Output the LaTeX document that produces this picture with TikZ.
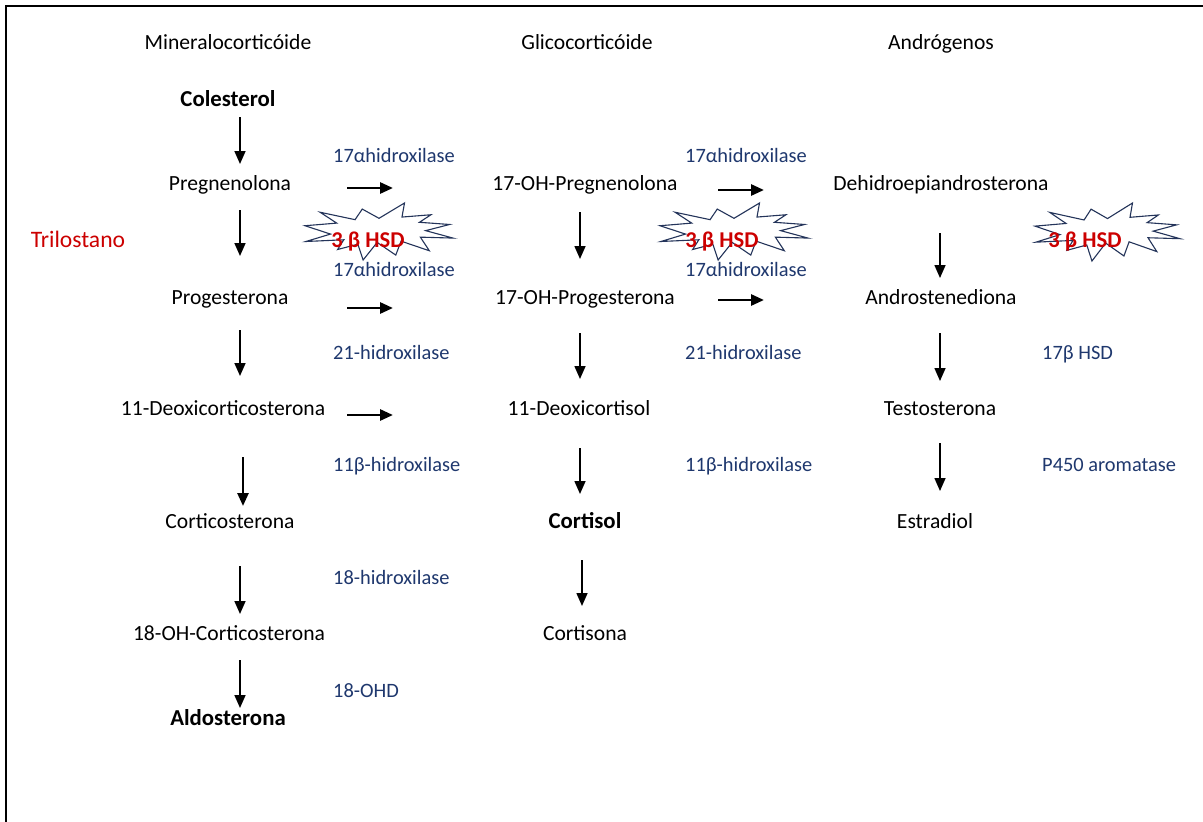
\documentclass[tikz,border=0pt]{standalone}
\usepackage{fontspec}
\setmainfont{Carlito}
\usetikzlibrary{arrows.meta}
\definecolor{enzblue}{RGB}{31,56,110}
\definecolor{sealblue}{RGB}{36,52,90}
\definecolor{trired}{RGB}{204,0,0}
\tikzset{
  lbl/.style={font=\fontsize{21.6}{25}\selectfont, inner sep=0pt, text height=0.64em, text depth=0pt, yshift=-4pt},
  boldlbl/.style={font=\fontsize{22.8}{27}\selectfont\bfseries, inner sep=0pt, text height=0.64em, text depth=0pt, yshift=-4pt},
  enz/.style={font=\fontsize{20.4}{24}\selectfont, text=enzblue, anchor=west, inner sep=0pt, text height=0.64em, text depth=0pt, yshift=-4pt},
  hsd/.style={font=\fontsize{22.6}{27}\selectfont\bfseries, text=trired, inner sep=0pt, text height=0.64em, text depth=0pt, yshift=-4pt},
  arr/.style={-{Triangle[length=13pt,width=11pt]}, line width=1.6pt},
  thickarr/.style={-{Triangle[length=13pt,width=11pt]}, line width=2.6pt},
  harr/.style={-{Triangle[length=13pt,width=11pt]}, line width=2.8pt},
  seal/.style={draw=sealblue, fill=white, line width=1.1pt, line join=miter},
  frame/.style={line width=2pt, black}
}
\newcommand\sealshape[5]{% name, x, y, w, h
  \begin{scope}[shift={(#2,#3)}, xscale=#4/216, yscale=#5/216]
    \draw[seal] (108,58) -- (145.22,0) -- (141.55,53.25) -- (183.80,44.57) -- (167.02,73.15) -- (210.97,81.37) -- (176.07,104.75) -- (216,132.90) -- (168.37,129.42) -- (181.45,180.95) -- (140.20,144.57) -- (132.47,197.37) -- (105.32,149.35) -- (84.85,216) -- (77.15,156.27) -- (47.62,176.17) -- (56.67,139.37) -- (1.35,145.87) -- (37.22,117.75) -- (0,86.15) -- (46.27,76.17) -- (22,35) -- (73.12,63.20) -- (83.52,22.95) -- cycle;
    \coordinate (#1) at (108,108);
  \end{scope}}
\begin{document}
\begin{tikzpicture}[x=1pt,y=-1pt]
\useasboundingbox (0,0) rectangle (1203,822);
\fill[white] (0,0) rectangle (1203,822);
% frame
\coordinate (fa) at (6,822);
\coordinate (fb) at (6,6);
\coordinate (fc) at (1203,6);
\draw[frame] (fa) -- (fb) -- (fc);

% headers
\node[lbl] (h1) at (228,42) {Mineralocorticóide};
\node[lbl] (h2) at (587,42) {Glicocorticóide};
\node[lbl] (h3) at (941,42) {Andrógenos};

% column 1
\node[boldlbl] (col) at (228,99) {Colesterol};
\node[lbl] (preg) at (230,183) {Pregnenolona};
\node[lbl] (prog) at (230,297) {Progesterona};
\node[lbl] (doc) at (223,408) {11-Deoxicorticosterona};
\node[lbl] (cort) at (230,521) {Corticosterona};
\node[lbl] (ohc) at (229,633) {18-OH-Corticosterona};
\node[boldlbl] (ald) at (228,718) {Aldosterona};
\node[lbl, text=trired, font=\fontsize{23.6}{28}\selectfont] (tri) at (78,240) {Trilostano};

% column 2
\node[lbl] (ohpreg) at (585,183) {17-OH-Pregnenolona};
\node[lbl] (ohprog) at (585,297) {17-OH-Progesterona};
\node[lbl] (dcl) at (579,408) {11-Deoxicortisol};
\node[boldlbl] (cortisol) at (585,521) {Cortisol};
\node[lbl] (cortisona) at (585,633) {Cortisona};

% column 3
\node[lbl] (dhea) at (941,183) {Dehidroepiandrosterona};
\node[lbl] (andro) at (941,297) {Androstenediona};
\node[lbl] (testo) at (940,408) {Testosterona};
\node[lbl] (estra) at (935,521) {Estradiol};

% seals
\sealshape{s1}{305}{203}{148}{57}
\sealshape{s2}{660}{203}{148}{57}
\sealshape{s3}{1035}{203}{145}{58}
\node[hsd] (hsd1) at (368,240) {3 β HSD};
\node[hsd] (hsd2) at (722,240) {3 β HSD};
\node[hsd] (hsd3) at (1085,240) {3 β HSD};

% enzymes column 1
\node[enz] (e1a) at (333,155) {17αhidroxilase};
\node[enz] (e1b) at (333,269) {17αhidroxilase};
\node[enz] (e1c) at (333,352) {21-hidroxilase};
\node[enz] (e1d) at (333,464) {11β-hidroxilase};
\node[enz] (e1e) at (333,577) {18-hidroxilase};
\node[enz] (e1f) at (333,690) {18-OHD};
% enzymes column 2
\node[enz] (e2a) at (685,155) {17αhidroxilase};
\node[enz] (e2b) at (685,269) {17αhidroxilase};
\node[enz] (e2c) at (685,352) {21-hidroxilase};
\node[enz] (e2d) at (685,464) {11β-hidroxilase};
% enzymes column 3
\node[enz] (e3c) at (1042,352) {17β HSD};
\node[enz] (e3d) at (1042,464) {P450 aromatase};

% vertical arrows column 1
\coordinate (v1a) at (240,117); \coordinate (v1b) at (240,164);
\coordinate (v2a) at (240,210); \coordinate (v2b) at (240,256);
\coordinate (v3a) at (240,330); \coordinate (v3b) at (240,376);
\coordinate (v4a) at (243,457); \coordinate (v4b) at (243,506);
\coordinate (v5a) at (240,566); \coordinate (v5b) at (240,614);
\coordinate (v6a) at (240,660); \coordinate (v6b) at (240,708);
\draw[arr] (v1a) -- (v1b);
\draw[arr] (v2a) -- (v2b);
\draw[arr] (v3a) -- (v3b);
\draw[thickarr] (v4a) -- (v4b);
\draw[arr] (v5a) -- (v5b);
\draw[arr] (v6a) -- (v6b);
% vertical arrows column 2
\coordinate (w1a) at (580,212); \coordinate (w1b) at (580,259);
\coordinate (w2a) at (580,333); \coordinate (w2b) at (580,379);
\coordinate (w3a) at (580,448); \coordinate (w3b) at (580,494);
\coordinate (w4a) at (582,560); \coordinate (w4b) at (582,606);
\draw[arr] (w1a) -- (w1b);
\draw[arr] (w2a) -- (w2b);
\draw[arr] (w3a) -- (w3b);
\draw[arr] (w4a) -- (w4b);
% vertical arrows column 3
\coordinate (u1a) at (940,233); \coordinate (u1b) at (940,278);
\coordinate (u2a) at (940,333); \coordinate (u2b) at (940,381);
\coordinate (u3a) at (940,443); \coordinate (u3b) at (940,491);
\draw[arr] (u1a) -- (u1b);
\draw[arr] (u2a) -- (u2b);
\draw[arr] (u3a) -- (u3b);

% horizontal arrows
\coordinate (ha1) at (347,188); \coordinate (hb1) at (393,188);
\coordinate (ha2) at (347,308); \coordinate (hb2) at (393,308);
\coordinate (ha3) at (347,415); \coordinate (hb3) at (393,415);
\coordinate (ha4) at (718,190); \coordinate (hb4) at (764,190);
\coordinate (ha5) at (718,300); \coordinate (hb5) at (764,300);
\draw[harr] (ha1) -- (hb1);
\draw[harr] (ha2) -- (hb2);
\draw[harr] (ha3) -- (hb3);
\draw[harr] (ha4) -- (hb4);
\draw[harr] (ha5) -- (hb5);
\end{tikzpicture}
\end{document}
